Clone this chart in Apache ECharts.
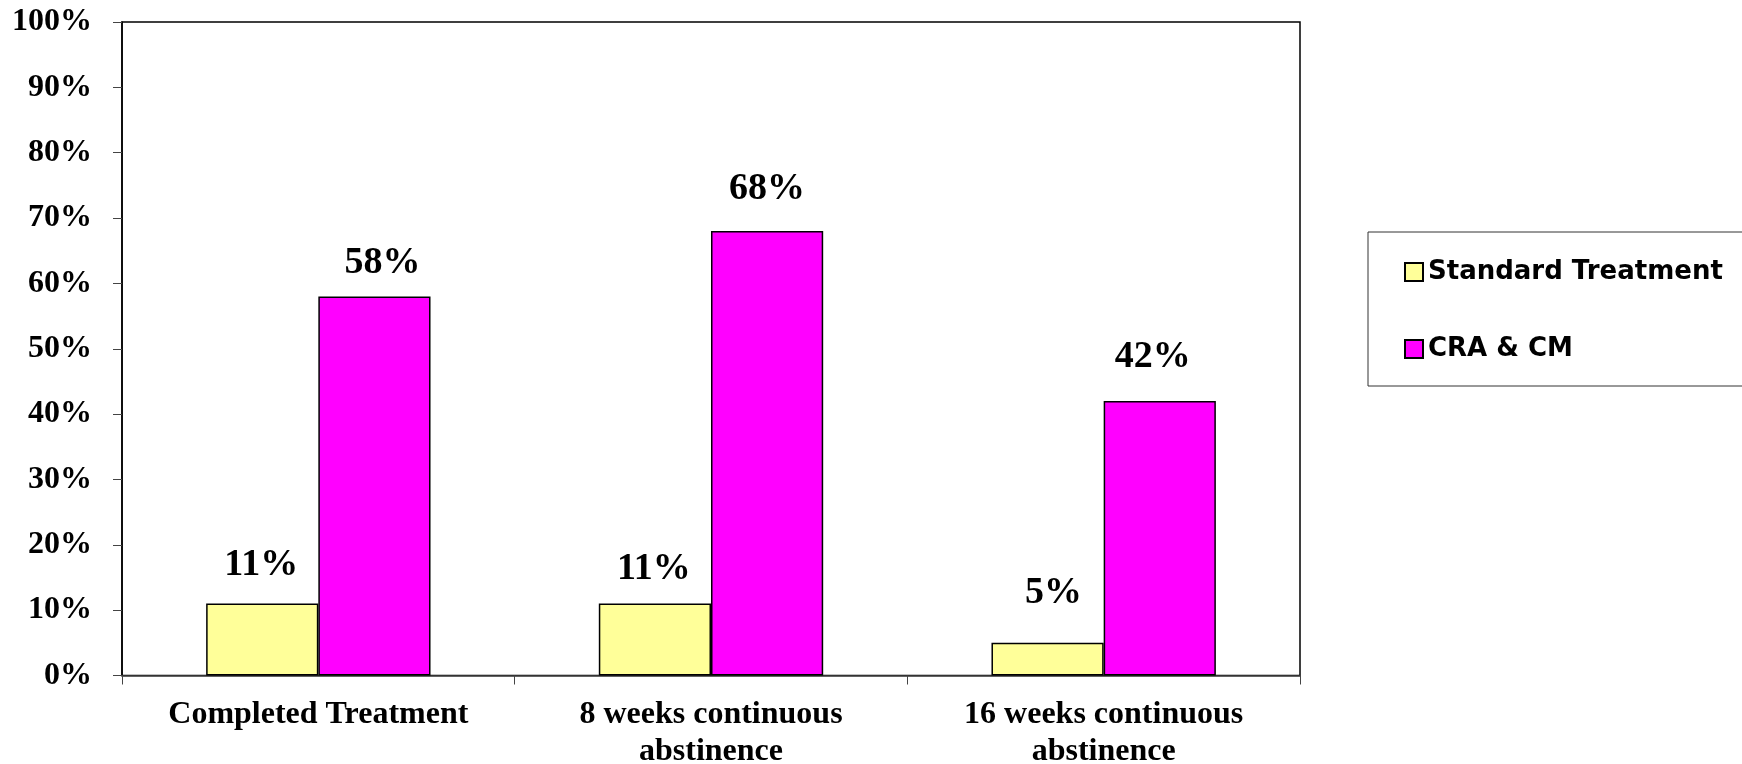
<!DOCTYPE html>
<html>
<head>
<meta charset="utf-8">
<script src="https://cdn.jsdelivr.net/npm/echarts@6/dist/echarts.min.js"></script>
<style>
  html, body { margin: 0; padding: 0; background: #fff; }
  #chart { width: 1742px; height: 764px; }
</style>
</head>
<body>
<div id="chart"></div>
<script>
// Outcome categories (second line of a label wraps onto a new row)
const categories = [
  'Completed Treatment',
  '8 weeks continuous\nabstinence',
  '16 weeks continuous\nabstinence'
];
// Percent of patients in each group
const standardTreatment = [11, 11, 5];
const craCm = [58, 68, 42];
const seriesNames = ['Standard Treatment', 'CRA & CM'];

// Hand-placed nudges [dx, dy] for the value labels above each bar
const standardLabelNudge = [[-1, -5], [-1, -1], [6, -17]];
const craCmLabelNudge = [[8, 0], [0, -9], [-7, -11]];

const serif = "'Liberation Serif', 'Times New Roman', serif";
const sans = "'DejaVu Sans', Verdana, sans-serif";

const chart = echarts.init(document.getElementById('chart'), null, { renderer: 'canvas' });

const valueLabel = {
  show: true,
  position: 'top',
  distance: 14,
  formatter: '{c}%',
  color: '#000',
  fontFamily: serif,
  fontWeight: 'bold',
  fontSize: 38
};

function withNudges(values, nudges) {
  return values.map((v, i) => ({ value: v, label: { offset: nudges[i] } }));
}

chart.setOption({
  animation: false,
  backgroundColor: '#fff',
  grid: {
    left: 122,
    right: 442,
    top: 22,
    bottom: 88.5,
    outerBoundsMode: 'none',
    containLabel: false,
    show: true,
    borderColor: '#000',
    borderWidth: 1.5,
    backgroundColor: 'transparent'
  },
  legend: {
    data: seriesNames,
    orient: 'vertical',
    left: 1368,
    top: 232,
    padding: [27, 80, 24, 36],
    itemGap: 51,
    itemWidth: 18,
    itemHeight: 18,
    icon: 'rect',
    borderColor: '#333',
    borderWidth: 1,
    textStyle: {
      fontFamily: sans,
      fontWeight: 'bold',
      fontSize: 26,
      lineHeight: 26,
      color: '#000'
    }
  },
  xAxis: {
    type: 'category',
    data: categories,
    axisLine: { lineStyle: { color: '#444', width: 1.5 } },
    axisTick: { show: true, length: 9, inside: false, lineStyle: { color: '#444' } },
    axisLabel: {
      margin: 21,
      color: '#000',
      fontFamily: serif,
      fontWeight: 'bold',
      fontSize: 32,
      lineHeight: 37,
      align: 'center'
    },
    splitLine: { show: false }
  },
  yAxis: {
    type: 'value',
    min: 0,
    max: 100,
    interval: 10,
    axisLine: { show: true, lineStyle: { color: '#000', width: 1.5 } },
    axisTick: { show: true, length: 9, inside: false, lineStyle: { color: '#444' } },
    axisLabel: {
      formatter: '{value}%',
      margin: 30,
      color: '#000',
      fontFamily: serif,
      fontWeight: 'bold',
      fontSize: 32
    },
    splitLine: { show: false }
  },
  series: [
    {
      name: seriesNames[0],
      type: 'bar',
      data: withNudges(standardTreatment, standardLabelNudge),
      barGap: '0%',
      barCategoryGap: '42.857%',
      itemStyle: { color: '#FFFF99', borderColor: '#000', borderWidth: 1.5 },
      label: valueLabel
    },
    {
      name: seriesNames[1],
      type: 'bar',
      data: withNudges(craCm, craCmLabelNudge),
      itemStyle: { color: '#FF00FF', borderColor: '#000', borderWidth: 1.5 },
      label: valueLabel
    }
  ]
});
</script>
</body>
</html>
